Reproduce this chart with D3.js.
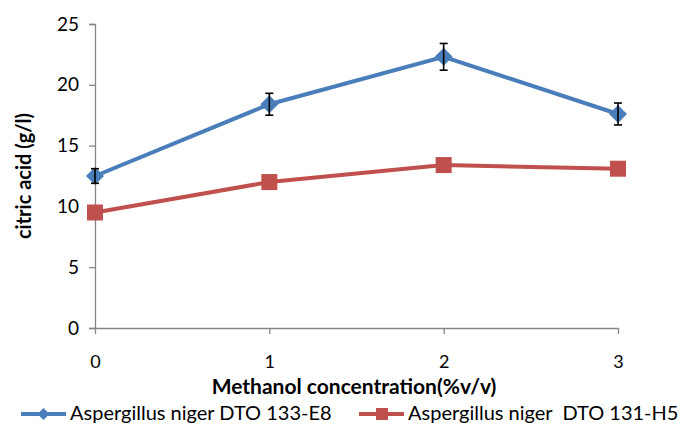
<!DOCTYPE html>
<html>
<head>
<meta charset="utf-8">
<script src="https://cdn.jsdelivr.net/npm/d3@7"></script>
<style>
  body { margin: 0; background: #fff; }
  text { font-family: Lato, "Open Sans", sans-serif; fill: #000; }
</style>
</head>
<body>
<div id="chart"></div>
<script>
const concentrations = [0, 1, 2, 3];
const e8Values = [12.5, 18.4, 22.3, 17.6];
const e8Errors = [0.6, 0.9, 1.1, 0.9];
const h5Values = [9.5, 12.0, 13.4, 13.1];
const h5Errors = [0.3, 0.3, 0.3, 0.3];
const yTicks = [0, 5, 10, 15, 20, 25];
const seriesNames = ["Aspergillus niger DTO 133-E8", "Aspergillus niger  DTO 131-H5"];

const width = 680, height = 424;
const margin = { top: 24, right: 62, bottom: 96, left: 95 };

const svg = d3.select("#chart").append("svg")
  .attr("width", width)
  .attr("height", height);

const x = d3.scaleLinear().domain([0, 3]).range([margin.left, width - margin.right]);
const y = d3.scaleLinear().domain([0, 25]).range([height - margin.bottom, margin.top]);

// y axis
const yAxis = svg.append("g")
  .attr("transform", `translate(${margin.left},0)`)
  .call(d3.axisLeft(y).tickValues(yTicks).tickSize(6).tickPadding(10));
yAxis.select(".domain").attr("stroke", "#868686").attr("stroke-width", 1.3);
yAxis.selectAll(".tick line").attr("stroke", "#868686").attr("stroke-width", 1.3);
yAxis.selectAll(".tick text").attr("font-size", 19).attr("font-family", "Lato");

// x axis
const xAxis = svg.append("g")
  .attr("transform", `translate(0,${height - margin.bottom})`)
  .call(d3.axisBottom(x).tickValues(concentrations).tickFormat(d3.format("d")).tickSize(6).tickSizeOuter(0).tickPadding(21));
xAxis.select(".domain").attr("stroke", "#868686").attr("stroke-width", 1.3);
xAxis.selectAll(".tick line").attr("stroke", "#868686").attr("stroke-width", 1.3);
xAxis.selectAll(".tick text").attr("font-size", 18).attr("font-family", "Lato");

// axis titles
svg.append("text")
  .attr("transform", `translate(31,${(y(0) + y(25)) / 2}) rotate(-90)`)
  .attr("text-anchor", "middle")
  .attr("font-size", 20)
  .attr("font-weight", "bold")
  .text("citric acid (g/l)");

svg.append("text")
  .attr("x", 354)
  .attr("y", 394)
  .attr("text-anchor", "middle")
  .attr("font-size", 21)
  .attr("font-weight", "bold")
  .text("Methanol concentration(%v/v)");

const line = d3.line().x((d, i) => x(concentrations[i])).y(d => y(d));

function drawErrors(values, errors, color) {
  const g = svg.append("g").attr("stroke", color).attr("stroke-width", 1.6);
  values.forEach((v, i) => {
    const cx = x(concentrations[i]);
    g.append("line").attr("x1", cx).attr("x2", cx).attr("y1", y(v - errors[i])).attr("y2", y(v + errors[i]));
    g.append("line").attr("x1", cx - 4).attr("x2", cx + 4).attr("y1", y(v - errors[i])).attr("y2", y(v - errors[i]));
    g.append("line").attr("x1", cx - 4).attr("x2", cx + 4).attr("y1", y(v + errors[i])).attr("y2", y(v + errors[i]));
  });
}

// red series
const red = "#C0504D", blue = "#4A7EBB";
drawErrors(h5Values, h5Errors, "#000");
svg.append("path").datum(h5Values)
  .attr("fill", "none").attr("stroke", red).attr("stroke-width", 4)
  .attr("d", line);
svg.selectAll(".h5").data(h5Values).enter().append("rect")
  .attr("class", "h5")
  .attr("x", (d, i) => x(concentrations[i]) - 8)
  .attr("y", d => y(d) - 8)
  .attr("width", 16).attr("height", 16)
  .attr("fill", red);

// blue series
svg.append("path").datum(e8Values)
  .attr("fill", "none").attr("stroke", blue).attr("stroke-width", 4)
  .attr("d", line);
svg.selectAll(".e8").data(e8Values).enter().append("path")
  .attr("class", "e8")
  .attr("transform", (d, i) => `translate(${x(concentrations[i])},${y(d)})`)
  .attr("d", "M0,-9L9,0L0,9L-9,0Z")
  .attr("fill", blue);
drawErrors(e8Values, e8Errors, "#000");

// legend
const legendY = 414;
const legendItems = [
  { name: seriesNames[0], color: blue, x0: 21, shape: "diamond" },
  { name: seriesNames[1], color: red, x0: 359, shape: "square" }
];
legendItems.forEach(it => {
  const g = svg.append("g");
  g.append("line").attr("x1", it.x0).attr("x2", it.x0 + 45)
    .attr("y1", legendY).attr("y2", legendY)
    .attr("stroke", it.color).attr("stroke-width", 4);
  if (it.shape === "diamond") {
    g.append("path").attr("transform", `translate(${it.x0 + 22.5},${legendY})`)
      .attr("d", "M0,-6L6,0L0,6L-6,0Z").attr("fill", it.color);
  } else {
    g.append("rect").attr("x", it.x0 + 17).attr("y", legendY - 6)
      .attr("width", 12).attr("height", 12).attr("fill", it.color);
  }
  g.append("text").attr("x", it.x0 + 49).attr("y", legendY + 6)
    .attr("font-size", 20)
    .style("white-space", "pre")
    .text(it.name);
});
</script>
</body>
</html>
